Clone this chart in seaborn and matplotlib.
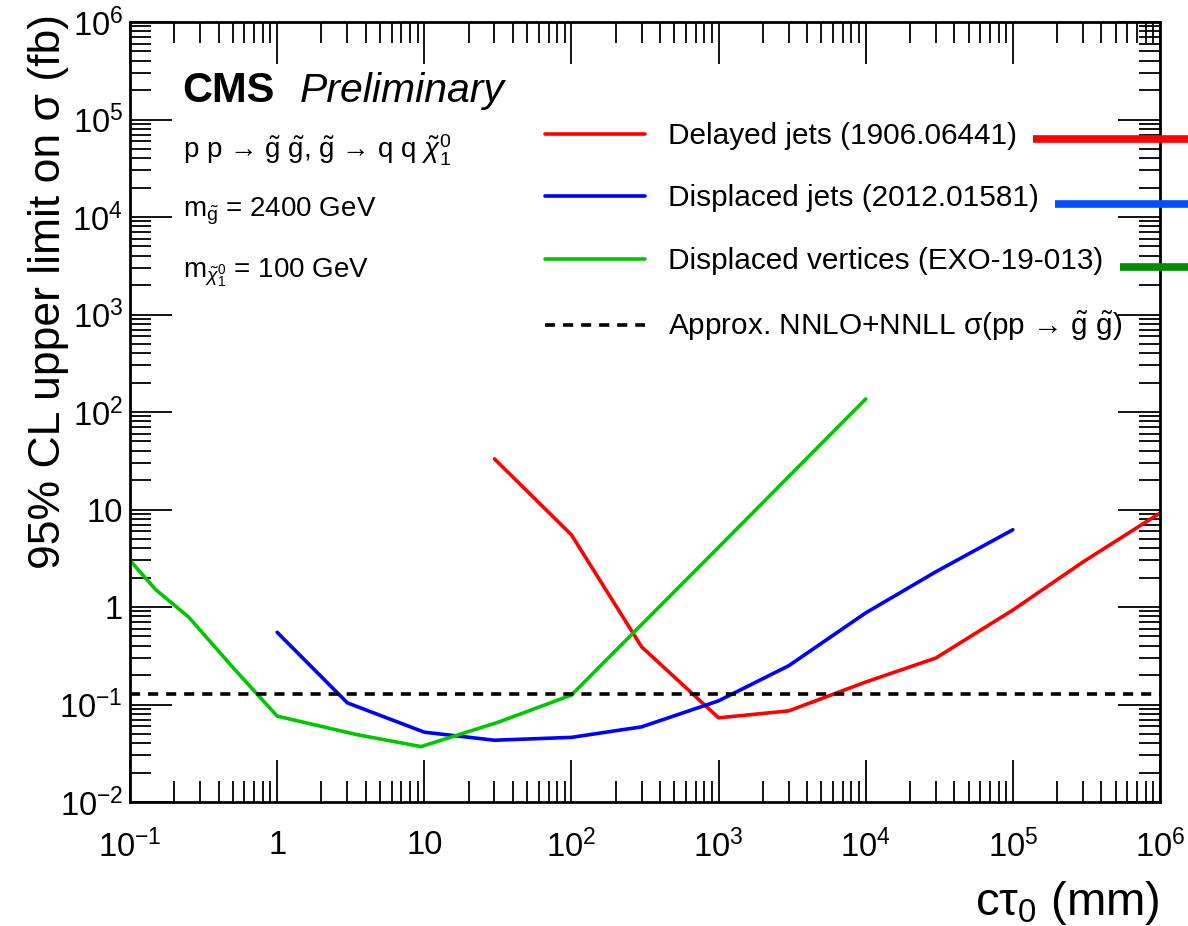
import numpy as np
import pandas as pd
import matplotlib
matplotlib.use("Agg")
import matplotlib.pyplot as plt
from matplotlib.ticker import LogLocator, NullFormatter, FixedLocator, FixedFormatter
from matplotlib.lines import Line2D
import seaborn as sns

# ---------------- data ----------------
delayed_ctau = [30, 100, 300, 1000, 3000, 1e4, 3e4, 1e5, 3e5, 1e6]
delayed_lim = [33, 5.5, 0.39, 0.073, 0.086, 0.17, 0.30, 0.93, 2.9, 9.2]

displaced_ctau = [1, 3, 10, 30, 100, 300, 1000, 3000, 1e4, 3e4, 1e5]
displaced_lim = [0.55, 0.104, 0.052, 0.043, 0.046, 0.059, 0.109, 0.25, 0.87, 2.3, 6.2]

dv_ctau = [0.1, 0.15, 0.25, 0.5, 1, 3.5, 9.5, 32, 100, 1000, 1e4]
dv_lim = [3.0, 1.5, 0.79, 0.24, 0.076, 0.049, 0.037, 0.066, 0.125, 4.1, 136]

xsec_theory = 0.128  # approx NNLO+NNLL gluino pair cross section (fb)

series_names = ["Delayed jets (1906.06441)",
                "Displaced jets (2012.01581)",
                "Displaced vertices (EXO-19-013)"]
series_colors = ["#ff0000", "#0000ff", "#00c800"]
theory_label = r"Approx. NNLO+NNLL σ(pp → $\tilde{\mathrm{g}}$ $\tilde{\mathrm{g}}$)"

xticks = [1e-1, 1, 10, 1e2, 1e3, 1e4, 1e5, 1e6]
xtick_labels = [r"$10^{-1}$", "1", "10", r"$10^{2}$", r"$10^{3}$", r"$10^{4}$", r"$10^{5}$", r"$10^{6}$"]
yticks = [1e-2, 1e-1, 1, 10, 1e2, 1e3, 1e4, 1e5, 1e6]
ytick_labels = [r"$10^{-2}$", r"$10^{-1}$", "1", "10", r"$10^{2}$", r"$10^{3}$", r"$10^{4}$", r"$10^{5}$", r"$10^{6}$"]

# ---------------- style ----------------
sns.set_theme(style="ticks")
plt.rcParams["font.family"] = ["Liberation Sans", "DejaVu Sans"]
plt.rcParams["mathtext.fontset"] = "custom"
plt.rcParams["mathtext.rm"] = "Liberation Sans"
plt.rcParams["mathtext.it"] = "Liberation Sans:italic"
plt.rcParams["mathtext.bf"] = "Liberation Sans:bold"
plt.rcParams["mathtext.sf"] = "Liberation Sans"
plt.rcParams["text.color"] = "black"
plt.rcParams["axes.labelcolor"] = "black"
plt.rcParams["xtick.color"] = "black"
plt.rcParams["ytick.color"] = "black"

df = pd.concat([
    pd.DataFrame({"ctau": delayed_ctau, "lim": delayed_lim, "analysis": series_names[0]}),
    pd.DataFrame({"ctau": displaced_ctau, "lim": displaced_lim, "analysis": series_names[1]}),
    pd.DataFrame({"ctau": dv_ctau, "lim": dv_lim, "analysis": series_names[2]}),
], ignore_index=True)

fig = plt.figure(figsize=(11.88, 9.26), dpi=100)
ax = fig.add_axes([130 / 1188, 1 - 802 / 926, 1030 / 1188, 780 / 926])

dash = (0, (2.8, 2.2))
sns.lineplot(data=df, x="ctau", y="lim", hue="analysis", hue_order=series_names,
             palette=series_colors, estimator=None, sort=False, linewidth=2.6,
             ax=ax, legend=False)
ax.axhline(xsec_theory, color="black", linestyle=dash, linewidth=2.6)

ax.set_xscale("log")
ax.set_yscale("log")
ax.set_xlim(1e-1, 1e6)
ax.set_ylim(1e-2, 1e6)

ax.xaxis.set_major_locator(FixedLocator(xticks))
ax.xaxis.set_major_formatter(FixedFormatter(xtick_labels))
ax.yaxis.set_major_locator(FixedLocator(yticks))
ax.yaxis.set_major_formatter(FixedFormatter(ytick_labels))
for axis in (ax.xaxis, ax.yaxis):
    axis.set_minor_locator(LogLocator(base=10, subs=np.arange(2, 10), numticks=100))
    axis.set_minor_formatter(NullFormatter())

ax.tick_params(which="both", direction="in", top=True, right=True, width=1.3, colors="black")
ax.tick_params(which="major", length=30, labelsize=23.5)
ax.tick_params(axis="x", which="major", pad=20)
ax.tick_params(axis="y", which="major", pad=5)
ax.tick_params(which="minor", length=15)
for s in ax.spines.values():
    s.set_linewidth(2.0)
    s.set_color("black")

ax.set_xlabel(r"cτ$_{0}$ (mm)", fontsize=34, loc="right", color="black")
ax.xaxis.set_label_coords(1.0, -0.099)
ax.set_ylabel("95% CL upper limit on σ (fb)", fontsize=32, loc="top", color="black")
ax.yaxis.set_label_coords(-0.059, 1.01)

# CMS label and model text
ax.text(0.051, 0.912, "CMS", transform=ax.transAxes, fontsize=30, fontweight="bold", va="center")
ax.text(0.165, 0.912, "Preliminary", transform=ax.transAxes, fontsize=29.5, fontstyle="italic", va="center")
ax.text(0.051, 0.836,
        r"p p → $\tilde{\mathrm{g}}$ $\tilde{\mathrm{g}}$, $\tilde{\mathrm{g}}$ → q q $\tilde{\chi}^{0}_{1}$",
        transform=ax.transAxes, fontsize=20, va="center")
ax.text(0.051, 0.757, r"m$_{\tilde{\mathrm{g}}}$ = 2400 GeV", transform=ax.transAxes, fontsize=20, va="center")
ax.text(0.051, 0.679, r"m$_{\tilde{\chi}^{0}_{1}}$ = 100 GeV", transform=ax.transAxes, fontsize=20, va="center")

# legend
handles = [Line2D([], [], color=c, linewidth=2.6) for c in series_colors]
handles.append(Line2D([], [], color="black", linestyle=dash, linewidth=2.6))
labels = series_names + [theory_label]
leg = ax.legend(handles, labels, loc="upper left", bbox_to_anchor=(545 / 1188, 1 - 122 / 926),
                bbox_transform=fig.transFigure, frameon=False, fontsize=21.4, labelcolor="black",
                handlelength=3.37, handletextpad=0.77, labelspacing=1.16, borderpad=0, borderaxespad=0)

# cropped thick bars at right edge (from neighbouring legend)
bar_specs = [("#ff0000", 1033, 139), ("#0050ff", 1055, 204), ("#008c00", 1120, 267)]
for col, x0, yy in bar_specs:
    fig.add_artist(Line2D([x0 / 1188, 1.0], [1 - yy / 926, 1 - yy / 926], transform=fig.transFigure,
                          color=col, linewidth=5.5, solid_capstyle="butt"))

fig.savefig("out.png", dpi=100)
